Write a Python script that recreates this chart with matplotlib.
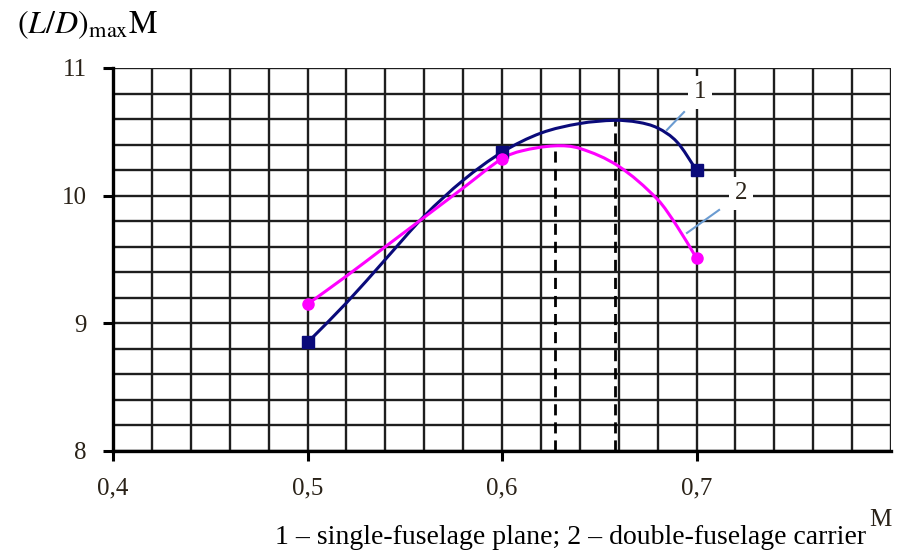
import numpy as np
import matplotlib
matplotlib.use('Agg')
import matplotlib.pyplot as plt
import matplotlib.ticker as tck
from matplotlib.path import Path
from matplotlib.patches import PathPatch

# curve 1 - single-fuselage plane
m1 = [0.50, 0.52, 0.54, 0.56, 0.58, 0.60, 0.62, 0.64, 0.658, 0.67, 0.68, 0.69, 0.70]
ld1 = [8.85, 9.16, 9.50, 9.84, 10.12, 10.34, 10.49, 10.565, 10.59, 10.575, 10.53, 10.42, 10.20]
# curve 2 - double-fuselage carrier
m2 = [0.50, 0.52, 0.54, 0.56, 0.58, 0.60, 0.61, 0.627, 0.64, 0.66, 0.68, 0.69, 0.70]
ld2 = [9.15, 9.37, 9.60, 9.83, 10.06, 10.29, 10.35, 10.39, 10.37, 10.23, 9.97, 9.76, 9.51]

# computed points (markers)
mk_m = [0.5, 0.6, 0.7]
mk1 = [8.85, 10.34, 10.20]
mk2 = [9.15, 10.29, 9.51]

# maxima
peak_m = [0.627, 0.658]
peak_ld = [10.39, 10.59]

xticks = [0.4, 0.5, 0.6, 0.7]
xtick_labels = ['0,4', '0,5', '0,6', '0,7']
yticks = [8, 9, 10, 11]

plt.rcParams['font.family'] = ['Liberation Serif', 'DejaVu Serif']
plt.rcParams['mathtext.fontset'] = 'stix'


def smooth_path(x, y):
    # cubic hermite through the points, slopes from neighbours
    x = np.asarray(x, float)
    y = np.asarray(y, float)
    n = len(x)
    d = np.zeros(n)
    d[0] = (y[1] - y[0]) / (x[1] - x[0])
    d[-1] = (y[-1] - y[-2]) / (x[-1] - x[-2])
    for i in range(1, n - 1):
        d[i] = (y[i + 1] - y[i - 1]) / (x[i + 1] - x[i - 1])
    verts = [(x[0], y[0])]
    codes = [Path.MOVETO]
    for i in range(n - 1):
        h = x[i + 1] - x[i]
        verts += [(x[i] + h / 3, y[i] + d[i] * h / 3),
                  (x[i + 1] - h / 3, y[i + 1] - d[i + 1] * h / 3),
                  (x[i + 1], y[i + 1])]
        codes += [Path.CURVE4] * 3
    return Path(verts, codes)


fig = plt.figure(figsize=(9.12, 5.51), dpi=100)
ax = fig.add_axes([0.1239, 0.1815, 0.8531, 0.6951])

ax.set_xlim(0.4, 0.8)
ax.set_ylim(8, 11)

ax.xaxis.set_minor_locator(tck.MultipleLocator(0.02))
ax.yaxis.set_minor_locator(tck.MultipleLocator(0.2))
ax.grid(which='both', c='#1e1e1e', lw=1.7)
ax.tick_params(which='minor', length=0)
ax.set_axisbelow(True)

ax.set_xticks(xticks)
ax.set_xticklabels(xtick_labels)
ax.set_yticks(yticks)
ax.tick_params(which='major', direction='out', length=7, width=2.2, color='black',
               labelsize=18, labelcolor='#2a2218', pad=12)
ax.tick_params(axis='y', pad=12)

for s in ['top', 'right']:
    ax.spines[s].set_visible(False)
for s in ['left', 'bottom']:
    ax.spines[s].set_linewidth(2.4)
    ax.spines[s].set_color('black')

# dashed verticals at the maxima
for xm, ym in zip(peak_m, peak_ld):
    ax.plot([xm, xm], [8, ym], c='black', lw=2, ls=(0, (4, 2.5)), zorder=3)

ax.add_patch(PathPatch(smooth_path(m1, ld1), fill=False, ec='#0a0a7a', lw=2.2, zorder=4))
ax.add_patch(PathPatch(smooth_path(m2, ld2), fill=False, ec='#ff00ff', lw=2.2, zorder=4))
ax.plot(mk_m, mk1, ls='none', marker='s', ms=8, c='#0a0a7a', zorder=5)
ax.plot(mk_m, mk2, ls='none', marker='o', ms=8, c='#ff00ff', zorder=5)

# curve numbers with leader lines
ax.plot([0.6848, 0.6936], [10.515, 10.655], c='#6a9bd1', lw=1.5, zorder=4)
ax.plot([0.6951, 0.7116], [9.708, 9.888], c='#6a9bd1', lw=1.5, zorder=4)
ax.text(0.7018, 10.81, '1', fontsize=18, ha='center', va='center', color='#2a2218', zorder=6,
        bbox=dict(fc='white', ec='none', pad=4))
ax.text(0.7229, 10.02, '2', fontsize=18, ha='center', va='center', color='#2a2218', zorder=6,
        bbox=dict(fc='white', ec='none', pad=4))

fig.text(0.019, 0.955, r'$(\mathit{L/D})_{\mathrm{max}}\mathrm{M}$', fontsize=23,
         ha='left', va='center')
fig.text(0.965, 0.056, 'M', fontsize=18, ha='center', va='center', color='#2a2218')
fig.text(0.302, 0.025, '1 – single-fuselage plane; 2 – double-fuselage carrier',
         fontsize=20, ha='left', va='center')

fig.savefig('out.png', dpi=100)
